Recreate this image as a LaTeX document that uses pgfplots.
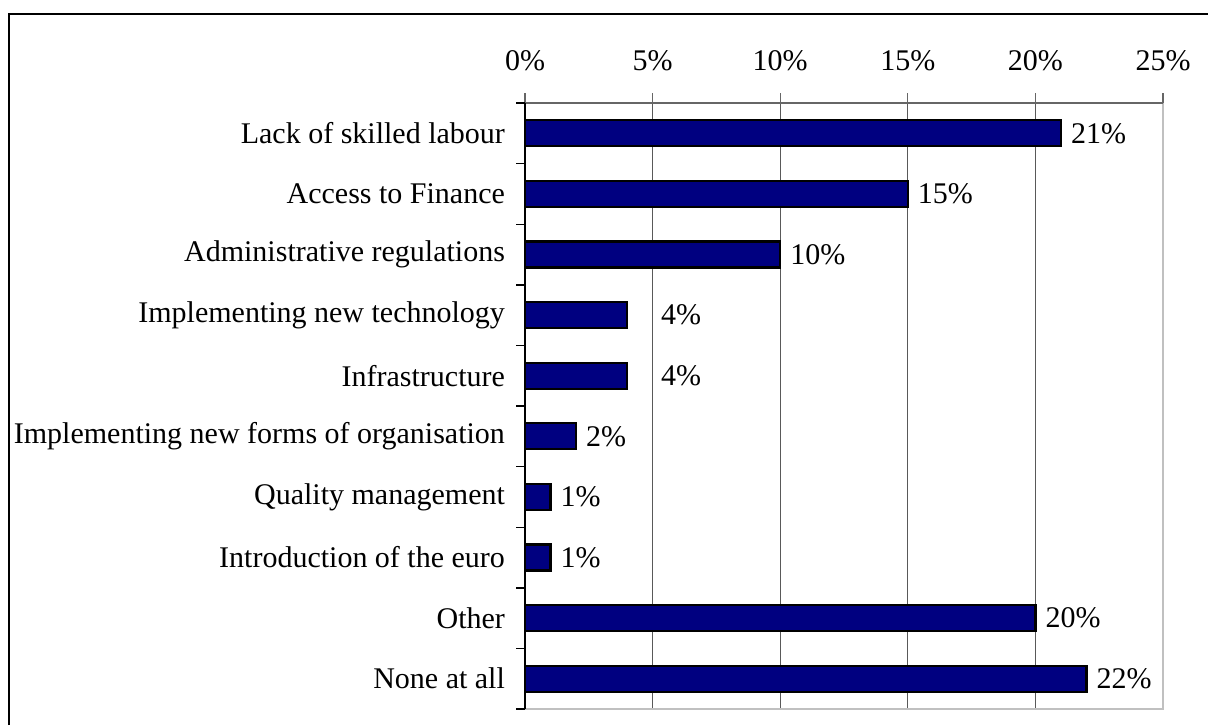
\documentclass[border=0pt]{standalone}
\usepackage{fontspec}
\setmainfont{Liberation Serif}
\usepackage{pgfplots}
\usepackage{pgfplotstable}
\pgfplotsset{compat=1.18}
\definecolor{barblue}{HTML}{000080}
\definecolor{frgray}{HTML}{C0C0C0}

% idx = category position (0 = top), value in %, shift = extra label offset (pt)
\pgfplotstableread{
idx value shift
0 21 0
1 15 0
2 10 0
3 4 12
4 4 12
5 2 0
6 1 0
7 1 0
8 20 0
9 22 0
}\obstacles

\newcommand{\chartfont}{\fontsize{15}{18}\selectfont}

\begin{document}
\begin{tikzpicture}
\useasboundingbox (0pt,0pt) rectangle (604pt,-362.5pt);
\draw[line width=0.9pt] (4.5pt,-362.5pt) |- (604pt,-7pt);
\begin{axis}[
    at={(262.5pt,-51.5pt)}, anchor=north west,
    scale only axis, width=319pt, height=303pt,
    xbar, bar width=13pt,
    xmin=0, xmax=25, ymin=-0.5, ymax=9.5, y dir=reverse,
    axis line style={draw=none},
    xtick={0,5,10,15,20,25},
    xticklabels={0\%,5\%,10\%,15\%,20\%,25\%},
    xtick pos=right, xticklabel pos=right,
    xticklabel style={yshift=7.5pt},
    xmajorgrids,
    major x grid style={black!65, line width=0.5pt},
    major x tick style={black!60, line width=0.6pt},
    tick align=outside,
    major tick length=5pt,
    minor tick length=4.5pt,
    ytick={0,...,9},
    yticklabels={Lack of skilled labour, Access to Finance, Administrative regulations,
        Implementing new technology, Infrastructure, Implementing new forms of organisation,
        Quality management, Introduction of the euro, Other, None at all},
    ytick pos=left, yticklabel pos=left,
    yticklabel style={xshift=-1.5pt},
    major y tick style={draw=none},
    minor ytick={-0.5,0.5,...,9.5},
    minor y tick style={black, line width=0.7pt},
    tick label style={font=\chartfont},
    /pgf/number format/assume math mode=true,
    point meta=x,
    nodes near coords={\pgfmathprintnumber{\pgfplotspointmeta}\%},
    nodes near coords align=horizontal,
    visualization depends on={\thisrow{shift} \as \lshift},
    every node near coord/.append style={font=\chartfont, black, inner sep=4.5pt, xshift=\lshift*1pt},
]
\addplot[draw=black, line width=1.1pt, fill=barblue] table[x=value, y=idx] {\obstacles};
\end{axis}
\draw[frgray, line width=1.2pt] (current axis.south west) -- (current axis.south east) -- (current axis.north east);
\draw[black!60, line width=0.7pt] (current axis.north west) -- (current axis.north east);
\draw[black, line width=0.9pt] (current axis.north west) -- (current axis.south west);
\end{tikzpicture}
\end{document}
